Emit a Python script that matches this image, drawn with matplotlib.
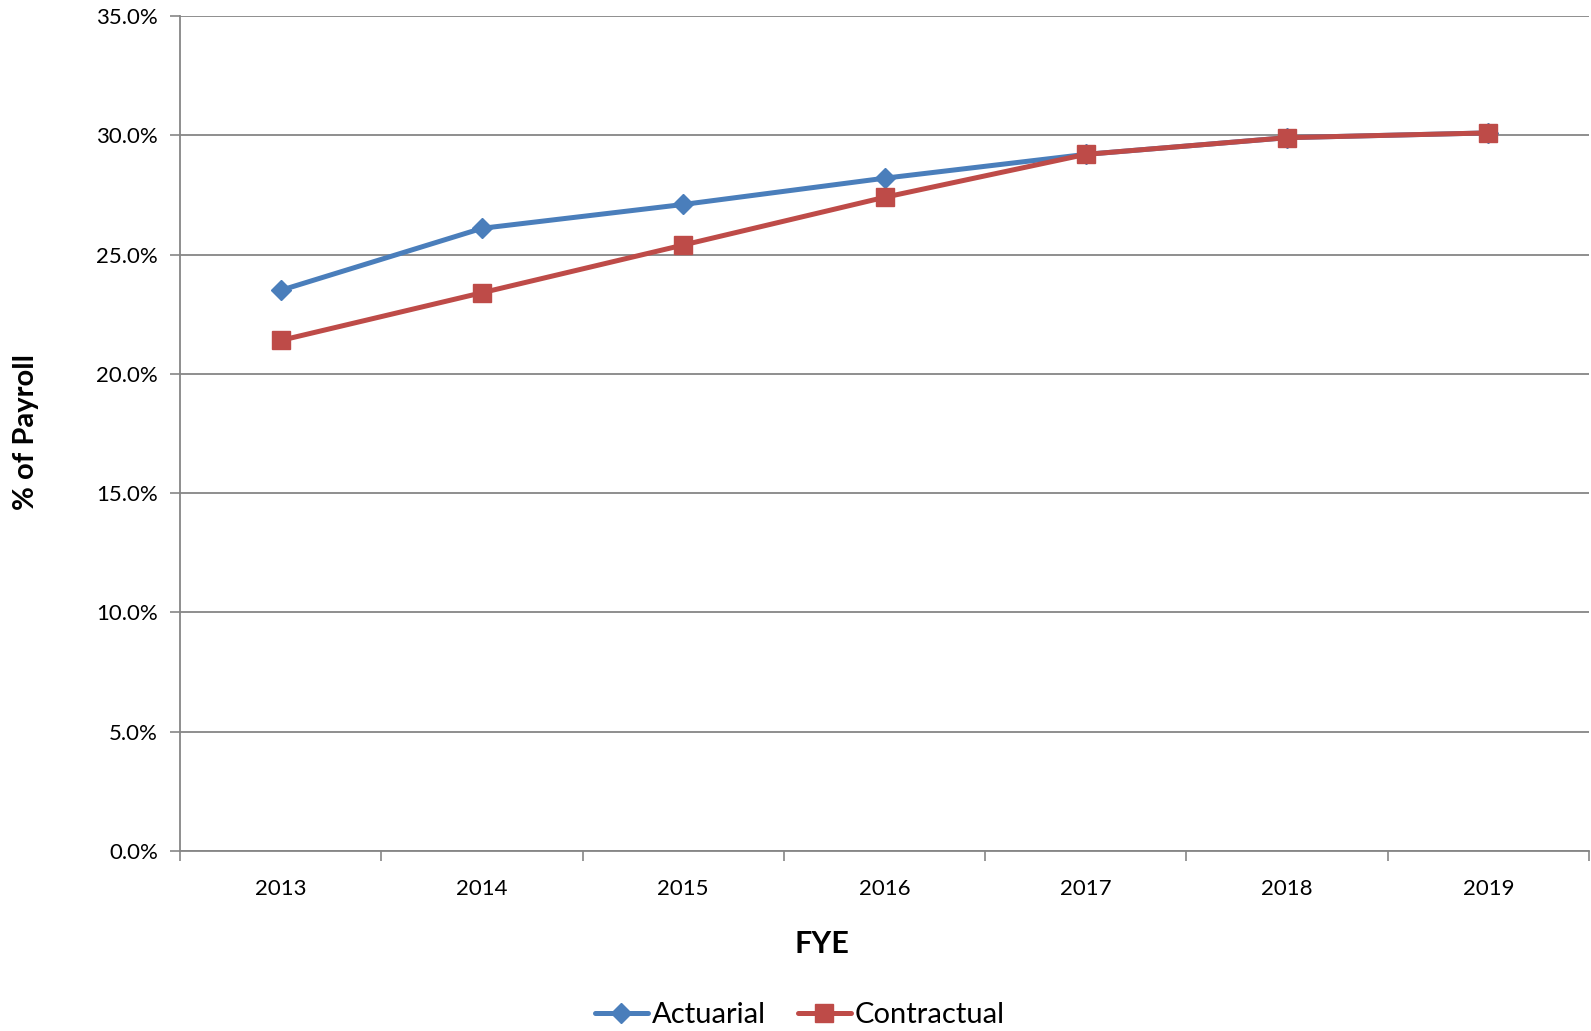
import matplotlib
matplotlib.use("Agg")
import matplotlib.pyplot as plt
from matplotlib.ticker import FixedLocator, PercentFormatter

years = ["2013", "2014", "2015", "2016", "2017", "2018", "2019"]
actuarial = [23.5, 26.1, 27.1, 28.2, 29.2, 29.9, 30.1]
contractual = [21.4, 23.4, 25.4, 27.4, 29.2, 29.9, 30.1]
y_ticks = [0, 5, 10, 15, 20, 25, 30, 35]

plt.rcParams["font.family"] = ["Lato", "DejaVu Sans"]

W, H = 1591, 1031
fig = plt.figure(figsize=(W / 100, H / 100), dpi=100)
left, right, top, bottom = 180, 1589, 16, 851
ax = fig.add_axes([left / W, 1 - bottom / H, (right - left) / W, (bottom - top) / H])

grid_col = "#868686"
x = list(range(len(years)))
ax.plot(x, actuarial, color="#4A7EBB", lw=3.6, marker="D", ms=10.5,
        label="Actuarial", zorder=3, solid_capstyle="round")
ax.plot(x, contractual, color="#BE4B48", lw=3.6, marker="s", ms=13.5,
        label="Contractual", zorder=4, solid_capstyle="round")

ax.set_xlim(-0.5, len(years) - 0.5)
ax.set_ylim(0, 35)
ax.set_yticks(y_ticks)
ax.yaxis.set_major_formatter(PercentFormatter(decimals=1))
ax.set_xticks(x)
ax.set_xticklabels(years)
ax.xaxis.set_minor_locator(FixedLocator([i - 0.5 for i in range(len(years) + 1)]))
ax.tick_params(axis="x", which="major", length=0, pad=20, labelsize=16)
ax.tick_params(axis="x", which="minor", length=7, width=1.2, color=grid_col, direction="out")
ax.tick_params(axis="y", length=7, width=1.2, color=grid_col, direction="out", labelsize=16, pad=9)

ax.grid(axis="y", color=grid_col, lw=1.3)
ax.set_axisbelow(True)
for s in ["top", "right"]:
    ax.spines[s].set_visible(False)
for s in ["left", "bottom"]:
    ax.spines[s].set_color(grid_col)
    ax.spines[s].set_linewidth(1.3)

fig.text(822 / W, 1 - 944 / H, "FYE", ha="center", va="center", fontsize=22, fontweight="bold")
fig.text(26 / W, 1 - 432 / H, "% of Payroll", ha="center", va="center", rotation=90,
         fontsize=21, fontweight="bold")

fig.legend(loc="center", bbox_to_anchor=(800 / W, 1 - 1015 / H), ncol=2, frameon=False,
           fontsize=21, handlelength=1.8, handletextpad=0.15, columnspacing=1.1)

fig.savefig("out.png", dpi=100)
